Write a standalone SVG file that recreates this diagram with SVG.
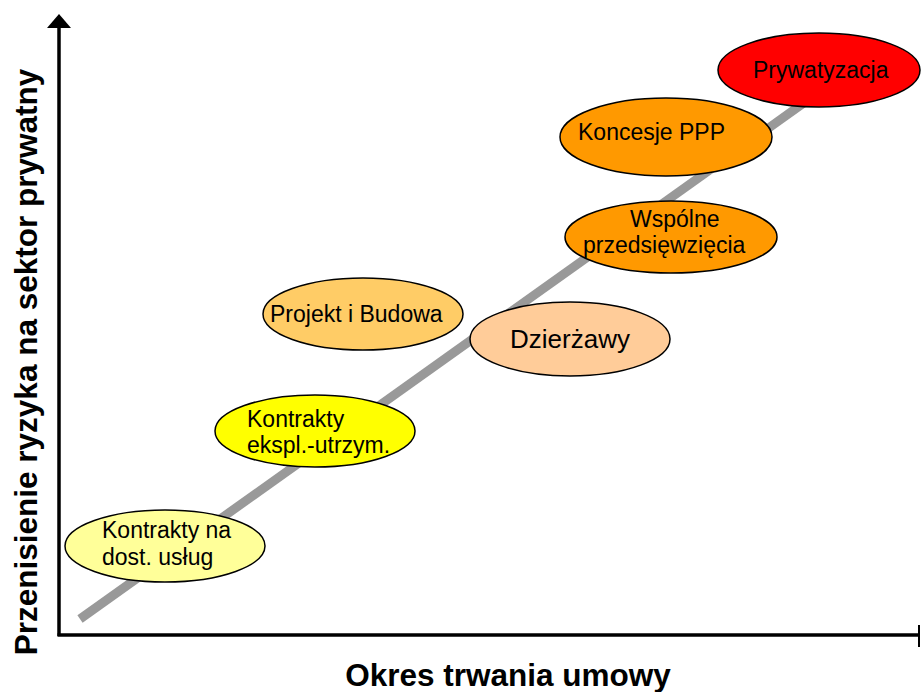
<svg xmlns="http://www.w3.org/2000/svg" width="921" height="692" viewBox="0 0 921 692">
  <style>
    .node ellipse { stroke: #000; stroke-width: 1.5; }
    .node text { font-family: "Liberation Sans", Arial, sans-serif; font-size: 23px; fill: #000; }
    .axis { stroke: #000; stroke-width: 3.5; fill: none; }
    .title { font-family: "Liberation Sans", Arial, sans-serif; font-weight: bold; font-size: 31.5px; fill: #000; }
  </style>
  <rect width="921" height="692" fill="#fff"/>

  <!-- axes -->
  <g id="axes">
    <line class="axis" x1="59" y1="636" x2="59" y2="26"/>
    <path d="M59 14 L47 28 L71 28 Z" fill="#000"/>
    <line class="axis" x1="57.5" y1="635" x2="919" y2="635"/>
    <line x1="919" y1="625" x2="919" y2="647" stroke="#000" stroke-width="2"/>
  </g>

  <!-- risk trend line -->
  <g id="connectors">
    <line x1="80" y1="619" x2="805" y2="102" stroke="#999" stroke-width="9"/>
  </g>

  <g id="n-dost" class="node">
    <ellipse cx="165" cy="546" rx="100" ry="36" fill="#FFFF99"/>
    <text x="102" y="538">Kontrakty na</text>
    <text x="102" y="565">dost. usług</text>
  </g>

  <g id="n-ekspl" class="node">
    <ellipse cx="315" cy="431" rx="100" ry="36" fill="#FFFF00"/>
    <text x="247" y="427">Kontrakty</text>
    <text x="247" y="453">ekspl.-utrzym.</text>
  </g>

  <g id="n-projekt" class="node">
    <ellipse cx="363" cy="314" rx="100" ry="36" fill="#FFCC66"/>
    <text x="270" y="322">Projekt i Budowa</text>
  </g>

  <g id="n-dzierzawy" class="node">
    <ellipse cx="570" cy="339" rx="100" ry="37" fill="#FFCC99"/>
    <text x="510" y="348" style="font-size:26px">Dzierżawy</text>
  </g>

  <g id="n-wspolne" class="node">
    <ellipse cx="671" cy="237" rx="106" ry="36" fill="#FF9900"/>
    <text x="630" y="227">Wspólne</text>
    <text x="583" y="253">przedsięwzięcia</text>
  </g>

  <g id="n-koncesje" class="node">
    <ellipse cx="666" cy="137" rx="106" ry="39" fill="#FF9900"/>
    <text x="578" y="140">Koncesje PPP</text>
  </g>

  <g id="n-prywatyzacja" class="node">
    <ellipse cx="819" cy="70" rx="101" ry="37" fill="#FF0000"/>
    <text x="753" y="78">Prywatyzacja</text>
  </g>

  <!-- axis titles -->
  <text class="title" x="508" y="686" text-anchor="middle">Okres trwania umowy</text>
  <text class="title" transform="translate(37 362) rotate(-90)" text-anchor="middle">Przenisienie ryzyka na sektor prywatny</text>
</svg>
